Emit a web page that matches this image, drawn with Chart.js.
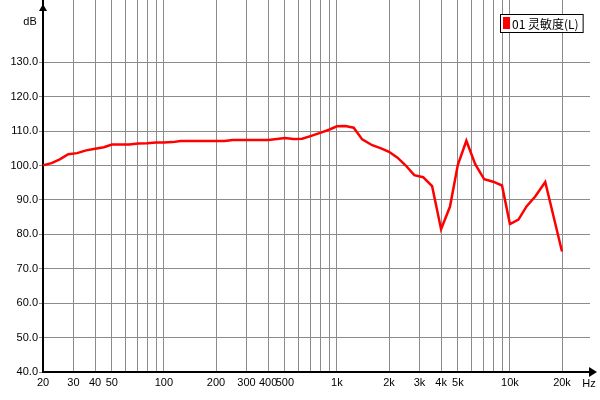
<!DOCTYPE html>
<html>
<head>
<meta charset="utf-8">
<script src="https://cdn.jsdelivr.net/npm/chart.js@4"></script>
<style>
  html, body { margin: 0; padding: 0; background: #fff; }
  #wrap { width: 600px; height: 400px; }
</style>
</head>
<body>
<div id="wrap"><canvas id="myChart" width="600" height="400"></canvas></div>
<script>
// frecuencias (Hz) y nivel (dB)
var freqs = [20, 22.4, 25, 28, 31.5, 35.5, 40, 45, 50, 56, 63, 71, 80, 90, 100, 112, 125, 140, 160, 180,
  200, 224, 250, 280, 315, 355, 400, 450, 500, 560, 630, 710, 800, 900, 1000, 1120, 1250, 1400, 1600, 1800,
  2000, 2240, 2500, 2800, 3150, 3550, 4000, 4500, 5000, 5600, 6300, 7100, 8000, 9000, 10000, 11200, 12500,
  14000, 16000, 20000];
var spl = [100.1, 100.7, 101.8, 103.3, 103.6, 104.4, 104.9, 105.3, 106.1, 106.1, 106.1, 106.4, 106.5, 106.7, 106.7, 106.8, 107.1, 107.1, 107.1, 107.1,
  107.1, 107.1, 107.4, 107.4, 107.4, 107.4, 107.4, 107.7, 108.0, 107.7, 107.8, 108.6, 109.5, 110.4, 111.4, 111.5, 111.0, 107.6, 105.9, 105.0,
  104.0, 102.3, 100.0, 97.2, 96.6, 94.0, 81.5, 88.0, 100.2, 107.2, 100.4, 96.0, 95.3, 94.2, 83.0, 84.3, 88.2,
  91.0, 95.2, 75.0];
var seriesName = '01 灵敏度(L)';

// lineas de la grilla y etiquetas del eje X
var xGrid = [20, 30, 40, 50, 60, 70, 80, 90, 100, 200, 300, 400, 500, 600, 700, 800, 900, 1000,
  2000, 3000, 4000, 5000, 6000, 7000, 8000, 9000, 10000, 20000];
var xLabels = {20: '20', 30: '30', 40: '40', 50: '50', 100: '100', 200: '200', 300: '300', 400: '400', 500: '500',
  1000: '1k', 2000: '2k', 3000: '3k', 4000: '4k', 5000: '5k', 10000: '10k', 20000: '20k'};
var yTicks = [40, 50, 60, 70, 80, 90, 100, 110, 120, 130];

var FONT = 'Liberation Sans, Arial, sans-serif';

var points = freqs.map(function(f, i){ return {x: f, y: spl[i]}; });

/*
* Plugin: flechas de los ejes, unidades y leyenda con marco
*/
var decor = {
  id: 'decor',
  afterDraw: function(chart){
    var ctx = chart.ctx;
    var a = chart.chartArea;
    ctx.save();
    ctx.fillStyle = '#000';
    // flecha eje Y
    ctx.beginPath();
    ctx.moveTo(a.left, 4);
    ctx.lineTo(a.left - 4, 11);
    ctx.lineTo(a.left + 4, 11);
    ctx.closePath();
    ctx.fill();
    // flecha eje X
    ctx.beginPath();
    ctx.moveTo(597, a.bottom);
    ctx.lineTo(589, a.bottom - 5);
    ctx.lineTo(589, a.bottom + 5);
    ctx.closePath();
    ctx.fill();
    // unidades
    ctx.font = '11px ' + FONT;
    ctx.textAlign = 'center';
    ctx.textBaseline = 'middle';
    ctx.fillText('dB', 30, 22);
    ctx.fillText('Hz', 589, 384);
    // leyenda
    ctx.font = '12px "Noto Sans CJK SC", ' + FONT;
    var label = chart.data.datasets[0].label;
    var tw = ctx.measureText(label).width;
    var bx = 500, by = 14, bw = tw + 16, bh = 18;
    ctx.fillStyle = '#fff';
    ctx.fillRect(bx, by, bw, bh);
    ctx.strokeStyle = '#000';
    ctx.lineWidth = 1;
    ctx.strokeRect(bx + 0.5, by + 0.5, bw, bh);
    ctx.fillStyle = chart.data.datasets[0].borderColor;
    ctx.fillRect(bx + 3, by + 3, 7, 12);
    ctx.fillStyle = '#000';
    ctx.textAlign = 'left';
    ctx.fillText(label, bx + 12, by + bh / 2 + 1);
    ctx.restore();
  }
};

function showchart(){
  var ctx = document.getElementById('myChart');
  new Chart(ctx, {
    type: 'scatter',
    data: {
      datasets: [{
        label: seriesName,
        data: points,
        showLine: true,
        borderColor: '#ff0000',
        backgroundColor: '#ff0000',
        borderWidth: 2.5,
        pointRadius: 0,
        tension: 0
      }]
    },
    options: {
      responsive: false,
      animation: false,
      layout: { padding: { top: 0, right: 10, bottom: 0, left: 0 } },
      plugins: { legend: { display: false }, tooltip: { enabled: false } },
      scales: {
        x: {
          type: 'logarithmic',
          min: 20,
          max: 29030,
          afterBuildTicks: function(scale){
            scale.ticks = xGrid.map(function(v){ return {value: v}; });
          },
          afterFit: function(scale){
            scale.height = 28;
            scale.paddingLeft = 0;
            scale.paddingRight = 0;
          },
          ticks: {
            autoSkip: false,
            maxRotation: 0,
            padding: 4,
            color: '#000',
            font: { family: FONT, size: 11 },
            callback: function(v){ return xLabels[v] || ''; }
          },
          grid: { color: '#8c8c8c', lineWidth: 1, drawTicks: false },
          border: { color: '#000', width: 2 }
        },
        y: {
          min: 40,
          max: 148.1,
          afterBuildTicks: function(scale){
            scale.ticks = yTicks.map(function(v){ return {value: v}; });
          },
          afterFit: function(scale){
            scale.width = 43;
            scale.paddingTop = 0;
            scale.paddingBottom = 0;
          },
          ticks: {
            padding: 1,
            color: '#000',
            font: { family: FONT, size: 11 },
            callback: function(v){ return v.toFixed(1); }
          },
          grid: { color: '#8c8c8c', lineWidth: 1, tickLength: 4 },
          border: { color: '#000', width: 2 }
        }
      }
    },
    plugins: [decor]
  });
}

showchart();
</script>
</body>
</html>
